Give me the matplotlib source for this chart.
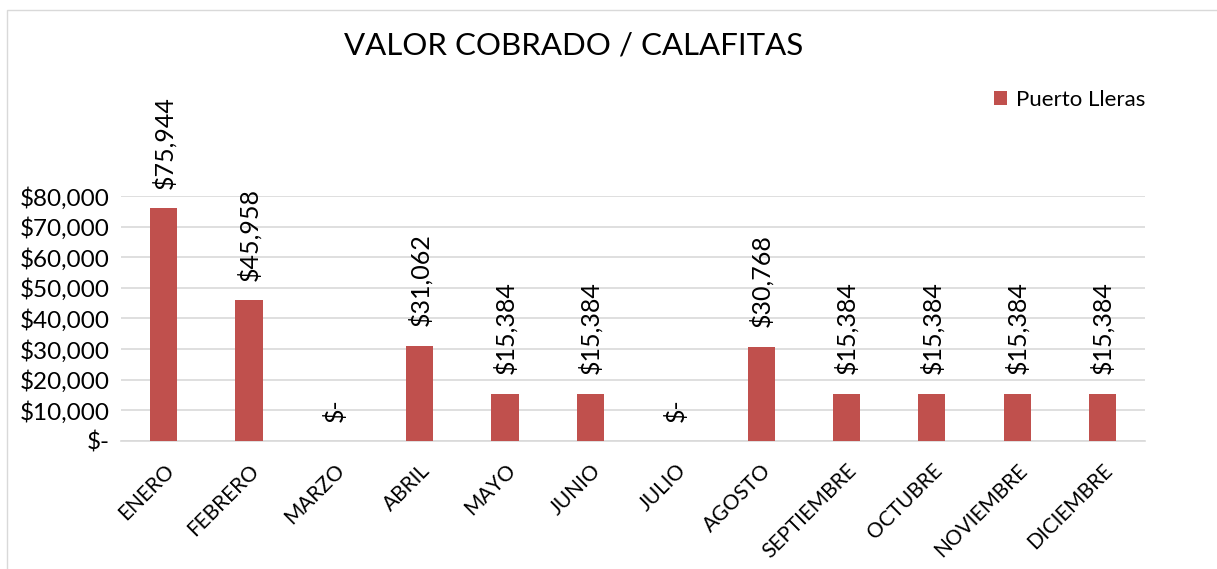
import matplotlib.pyplot as plt
from matplotlib.patches import Rectangle

meses = ["ENERO", "FEBRERO", "MARZO", "ABRIL", "MAYO", "JUNIO", "JULIO",
         "AGOSTO", "SEPTIEMBRE", "OCTUBRE", "NOVIEMBRE", "DICIEMBRE"]
valores = [75944, 45958, 0, 31062, 15384, 15384, 0,
           30768, 15384, 15384, 15384, 15384]
yticks = [0, 10000, 20000, 30000, 40000, 50000, 60000, 70000, 80000]

plt.rcParams['font.family'] = ['Lato', 'DejaVu Sans']

def fmt(v):
    # formato contable: cero se muestra como "$-"
    if v == 0:
        return "$-"
    return "${:,.0f}".format(v)

fig = plt.figure(figsize=(12.17, 5.69), dpi=100)
ax = fig.add_axes([0.0995, 0.225, 0.8415, 0.4305])

x = list(range(len(meses)))
bars = ax.bar(x, valores, width=0.32, color="#C0504D", label="Puerto Lleras", zorder=3)

for xi, v in zip(x, valores):
    ax.annotate(fmt(v), (xi, v), xytext=(0, 14), textcoords="offset points",
                rotation=90, ha="center", va="bottom", fontsize=18,
                annotation_clip=False)

ax.set_xlim(-0.5, len(meses) - 0.5)
ax.set_ylim(0, 80000)
ax.set_yticks(yticks)
ax.set_yticklabels([fmt(t) for t in yticks], fontsize=17.5)
ax.set_xticks(x)
ax.set_xticklabels(meses, rotation=45, ha="right", rotation_mode="anchor", fontsize=15)
ax.tick_params(length=0, pad=8)
ax.tick_params(axis="x", pad=14)

ax.grid(axis="y", color="#D9D9D9", linewidth=1.2, zorder=0)
for s in ["top", "right", "left"]:
    ax.spines[s].set_visible(False)
ax.spines["bottom"].set_color("#D9D9D9")
ax.spines["bottom"].set_linewidth(1.2)

fig.text(0.471, 0.92, "VALOR COBRADO / CALAFITAS", ha="center", va="center", fontsize=22.5)

leg = fig.legend(handles=[bars], labels=["Puerto Lleras"], loc="center left",
                 bbox_to_anchor=(0.8, 0.825), frameon=False, fontsize=16,
                 handlelength=0.6, handleheight=0.6, handletextpad=0.4)

fig.patches.append(Rectangle((0.006, -0.01), 1.2, 0.993, transform=fig.transFigure,
                             fill=False, edgecolor="#D9D9D9", linewidth=1))

fig.savefig("out.png", dpi=100)
